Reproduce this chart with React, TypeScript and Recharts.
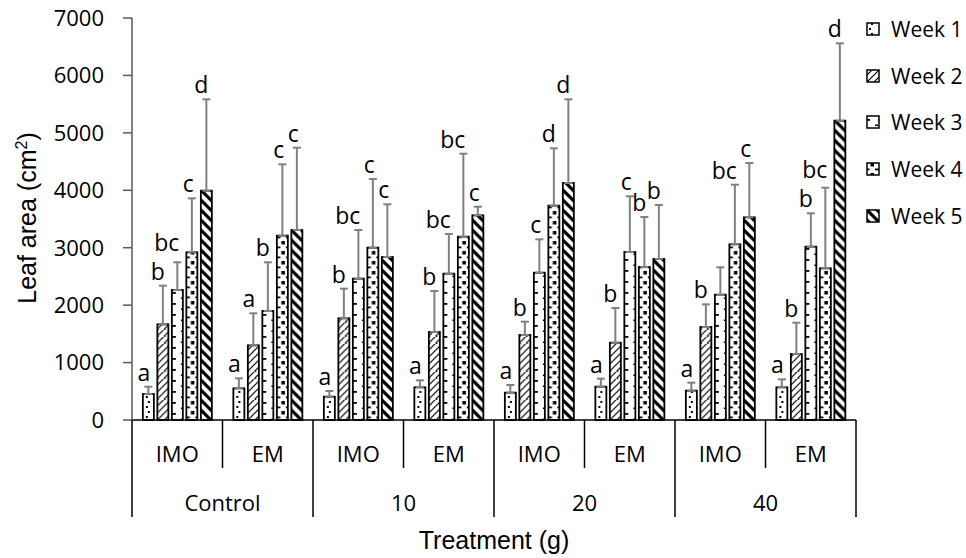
import { BarChart, Bar, XAxis, YAxis, ErrorBar, LabelList, Legend } from 'recharts';

const subLabels = ['IMO', 'EM', 'IMO', 'EM', 'IMO', 'EM', 'IMO', 'EM'];
const groupLabels = ['Control', '10', '20', '40'];
const yTicks = [0, 1000, 2000, 3000, 4000, 5000, 6000, 7000];
const weekNames = ['Week 1', 'Week 2', 'Week 3', 'Week 4', 'Week 5'];

// mean leaf area per week
const week1 = [453, 551, 406, 569, 476, 580, 511, 569];
const week2 = [1666, 1300, 1771, 1532, 1480, 1346, 1619, 1149];
const week3 = [2264, 1898, 2461, 2548, 2565, 2925, 2182, 3018];
const week4 = [2920, 3210, 3001, 3192, 3732, 2664, 3059, 2641];
const week5 = [3993, 3308, 2838, 3564, 4127, 2803, 3529, 5212];

// upper error (SD)
const week1Err = [127, 175, 99, 122, 133, 140, 139, 139];
const week2Err = [673, 558, 516, 714, 232, 604, 395, 546];
const week3Err = [482, 848, 847, 691, 581, 970, 477, 581];
const week4Err = [940, 1242, 1195, 1445, 999, 871, 1038, 1404];
const week5Err = [1591, 1434, 918, 150, 1457, 941, 946, 1347];

// significance letters
const week1Sig = ['a', 'a', 'a', 'a', 'a', 'a', 'a', 'a'];
const week2Sig = ['b', 'a', 'b', 'b', 'b', 'b', 'b', 'b'];
const week3Sig = ['bc', 'b', 'bc', 'bc', 'c', 'c', '', 'b'];
const week4Sig = ['c', 'c', 'c', 'bc', 'd', 'b', 'bc', 'bc'];
const week5Sig = ['d', 'c', 'c', 'c', 'd', 'b', 'c', 'd'];

const weeks = [week1, week2, week3, week4, week5];
const errs = [week1Err, week2Err, week3Err, week4Err, week5Err];
const sigs = [week1Sig, week2Sig, week3Sig, week4Sig, week5Sig];

const data = subLabels.map((sub, i) => {
  const row: Record<string, any> = { sub };
  weeks.forEach((w, k) => {
    row[`w${k + 1}`] = w[i];
    row[`e${k + 1}`] = [0, errs[k][i]];
  });
  return row;
});

const W = 966;
const H = 558;
const LEFT = 132;
const RIGHT = 110;
const TOP = 18;
const X_AXIS_H = 138;
const CAT_W = (W - LEFT - RIGHT) / subLabels.length;
const TICK_FONT = 'Open Sans, sans-serif';
const TITLE_FONT = 'Liberation Sans, Arial, sans-serif';

const PatternBar = (props: any) => {
  const { x, y, width, height, fill } = props;
  if (!height || height <= 0) return null;
  return (
    <g transform={`translate(${x},${y + height})`}>
      <rect x={0} y={-height} width={width} height={height} fill={fill} stroke="#000" strokeWidth={1.8} />
    </g>
  );
};

const makeSigLabel = (k: number) => (p: any) => {
  const vb = p.viewBox && p.viewBox.width !== undefined ? p.viewBox : p;
  const { x, y, width, height } = vb;
  const i = p.index;
  const val = weeks[k][i];
  const text = sigs[k][i];
  if (!text || !val) return null;
  const ppu = height / val;
  const base = y + height;
  let ty = y - errs[k][i] * ppu - 6;
  // two-letter labels reach over the previous bar: keep them above its letter
  if (k > 0 && text.length > 1 && sigs[k - 1][i]) {
    const prevY = base - (weeks[k - 1][i] + errs[k - 1][i]) * ppu - 6;
    ty = Math.min(ty, prevY - 29);
  }
  return (
    <text x={x + width / 2 + 2} y={ty} textAnchor="end" fontSize={23} fontFamily={TICK_FONT} fill="#000">
      {text}
    </text>
  );
};

const TreatmentTick = (props: any) => {
  const { x, y, payload } = props;
  const i = payload.index;
  const right = x + CAT_W / 2;
  const groupEnd = i % 2 === 1;
  return (
    <g>
      <text x={x} y={y + 33} textAnchor="middle" dominantBaseline="central" fontSize={22} fontFamily={TICK_FONT} fill="#000">
        {payload.value}
      </text>
      {i === 0 && (
        <line x1={x - CAT_W / 2} x2={x - CAT_W / 2} y1={y} y2={y + 97} stroke="#000" strokeWidth={1.5} />
      )}
      <line x1={right} x2={right} y1={y} y2={y + (groupEnd ? 97 : 48)} stroke="#000" strokeWidth={1.5} />
      {!groupEnd && (
        <text x={right} y={y + 82} textAnchor="middle" dominantBaseline="central" fontSize={22} fontFamily={TICK_FONT} fill="#000">
          {groupLabels[i / 2]}
        </text>
      )}
    </g>
  );
};

const renderYLabel = () => (
  <text
    x={36}
    y={218}
    transform="rotate(-90, 36, 218)"
    textAnchor="middle"
    fontSize={25}
    fontFamily={TITLE_FONT}
    fill="#000"
  >
    Leaf area (cm
    <tspan dy={-9} fontSize={16}>2</tspan>
    <tspan dy={9}>)</tspan>
  </text>
);

const renderXLabel = (p: any) => {
  const vb = p.viewBox || {};
  return (
    <text x={vb.x + vb.width / 2} y={549} textAnchor="middle" fontSize={25} fontFamily={TITLE_FONT} fill="#000">
      Treatment (g)
    </text>
  );
};

const renderLegend = (p: any) => {
  const items = (p.payload && p.payload.length ? p.payload.map((e: any) => e.value) : weekNames) as string[];
  return (
    <div style={{ fontFamily: TICK_FONT, fontSize: 21, color: '#000' }}>
      {items.map((n, i) => (
        <div key={n} style={{ height: 46.6, display: 'flex', alignItems: 'center' }}>
          <svg width={14} height={14} style={{ marginLeft: 6 }}>
            <rect x={1} y={1} width={12} height={12} fill={`url(#p${i + 1})`} stroke="#000" strokeWidth={1.5} />
          </svg>
          <span style={{ marginLeft: 11 }}>{n}</span>
        </div>
      ))}
    </div>
  );
};

const Patterns = () => (
  <svg width={0} height={0} style={{ position: 'absolute' }}>
    <defs>
      <pattern id="p1" patternUnits="userSpaceOnUse" width={12} height={10}>
        <rect width={12} height={10} fill="#fff" />
        <rect x={5} y={1} width={2} height={2} fill="#000" />
        <rect x={3} y={6} width={2} height={2} fill="#000" />
      </pattern>
      <pattern id="p2" patternUnits="userSpaceOnUse" width={7} height={7}>
        <rect width={7} height={7} fill="#fff" />
        <path d="M0,7 L7,0 M-2,2 L2,-2 M5,9 L9,5" stroke="#000" strokeWidth={1.2} />
      </pattern>
      <pattern id="p3" patternUnits="userSpaceOnUse" width={12} height={11}>
        <rect width={12} height={11} fill="#fff" />
        <rect x={0} y={4} width={4} height={1.8} fill="#000" />
        <rect x={9} y={9.5} width={3} height={1.5} fill="#000" />
      </pattern>
      <pattern id="p4" patternUnits="userSpaceOnUse" width={12} height={10}>
        <rect width={12} height={10} fill="#fff" />
        <rect x={4.5} y={1} width={3.5} height={3.5} fill="#000" />
        <rect x={0} y={6.5} width={3.5} height={1.8} fill="#000" />
        <rect x={9} y={6.5} width={3} height={1.8} fill="#000" />
      </pattern>
      <pattern id="p5" patternUnits="userSpaceOnUse" width={10} height={10}>
        <rect width={10} height={10} fill="#fff" />
        <path d="M0,0 L10,10 M-3,7 L3,13 M7,-3 L13,3" stroke="#000" strokeWidth={3.2} />
      </pattern>
    </defs>
  </svg>
);

export default function App() {
  return (
    <div style={{ position: 'absolute', left: 0, top: 0, width: W, height: H, background: '#fff' }}>
      <Patterns />
      <BarChart
        width={W}
        height={H}
        data={data}
        margin={{ top: TOP, right: RIGHT, left: 0, bottom: 0 }}
        barCategoryGap="12%"
        barGap={3.5}
      >
        <XAxis
          dataKey="sub"
          height={X_AXIS_H}
          interval={0}
          tickLine={false}
          tickSize={0}
          tickMargin={0}
          axisLine={{ stroke: '#000', strokeWidth: 1.5 }}
          tick={(p: any) => <TreatmentTick {...p} />}
          label={renderXLabel}
        />
        <YAxis
          width={LEFT}
          domain={[0, 7000]}
          ticks={yTicks}
          tickSize={9}
          tickMargin={19}
          axisLine={{ stroke: '#595959', strokeWidth: 1.5 }}
          tickLine={{ stroke: '#595959', strokeWidth: 1.5 }}
          tick={{ fill: '#000', fontSize: 22, fontFamily: TICK_FONT }}
          label={renderYLabel}
        />
        <Legend
          layout="vertical"
          align="center"
          verticalAlign="middle"
          wrapperStyle={{ left: 860, top: 6, width: 106 }}
          content={renderLegend}
        />
        {weekNames.map((name, k) => (
          <Bar
            key={name}
            dataKey={`w${k + 1}`}
            name={name}
            fill={`url(#p${k + 1})`}
            shape={<PatternBar />}
            isAnimationActive={false}
          >
            <ErrorBar dataKey={`e${k + 1}`} direction="y" width={4} stroke="#808080" strokeWidth={2} />
            <LabelList dataKey={`w${k + 1}`} content={makeSigLabel(k)} />
          </Bar>
        ))}
      </BarChart>
    </div>
  );
}
